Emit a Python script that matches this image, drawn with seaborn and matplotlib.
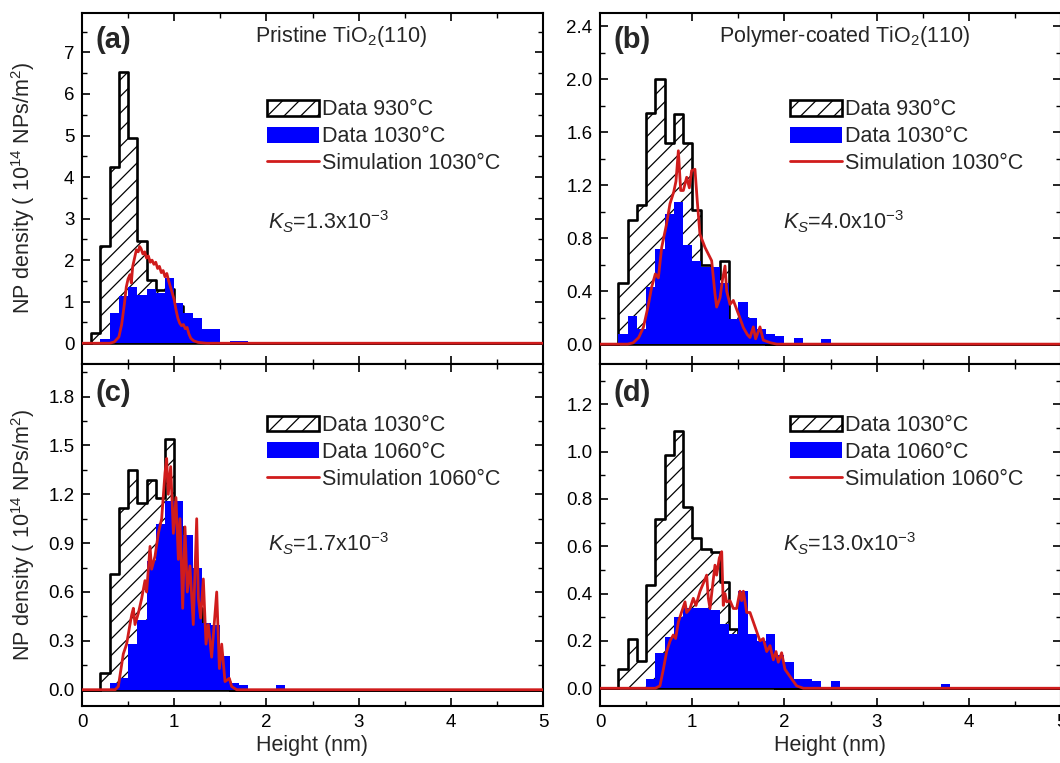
import numpy as np
import pandas as pd
import matplotlib
matplotlib.use("Agg")
import matplotlib.pyplot as plt
import seaborn as sns
from matplotlib.patches import Patch
from matplotlib.lines import Line2D
from matplotlib.ticker import MultipleLocator, FormatStrFormatter

sns.set_theme(style="ticks")
plt.rcParams['font.family'] = ['Liberation Sans', 'DejaVu Sans']
plt.rcParams['mathtext.fontset'] = 'custom'
plt.rcParams['mathtext.rm'] = 'Liberation Sans'
plt.rcParams['mathtext.it'] = 'Liberation Sans:italic'
plt.rcParams['mathtext.bf'] = 'Liberation Sans:bold'
plt.rcParams['hatch.linewidth'] = 0.9

# ---------------- data (bins of 0.1 nm starting at 0.0 nm) ----------------
# panel (a) pristine
a_930 = [0, 0.25, 2.34, 4.24, 6.53, 4.94, 2.45, 1.52, 1.28, 1.3, 0.9, 0.5, 0.2, 0.1]
a_1030 = [0, 0, 0.11, 0.72, 1.14, 1.36, 1.16, 1.3, 1.2, 1.56, 0.96, 0.72, 0.6, 0.35,
          0.35, 0.04, 0.05, 0.05]
a_sim_x = [0, 0.3, 0.35, 0.40, 0.43, 0.46, 0.48, 0.50, 0.52, 0.535, 0.55, 0.57, 0.59, 0.61,
           0.625, 0.64, 0.66, 0.68, 0.70, 0.72, 0.74, 0.76, 0.78, 0.80, 0.82, 0.84, 0.86,
           0.88, 0.90, 0.92, 0.94, 0.96, 0.98, 1.0, 1.02, 1.04, 1.06, 1.08, 1.10, 1.12,
           1.14, 1.16, 1.18, 1.21, 1.26, 1.35, 5.0]
a_sim_y = [0, 0, 0.03, 0.15, 0.45, 0.95, 1.35, 1.55, 1.65, 1.45, 1.85, 2.05, 2.25, 2.2,
           2.33, 2.28, 2.15, 2.2, 2.05, 2.1, 1.95, 2.0, 1.9, 1.95, 1.8, 1.85, 1.7,
           1.75, 1.6, 1.68, 1.5, 1.35, 1.2, 1.05, 0.8, 0.6, 0.48, 0.42, 0.45, 0.35,
           0.38, 0.22, 0.12, 0.06, 0.02, 0, 0]

# panel (b) polymer-coated
b_930 = [0, 0, 0.465, 0.94, 1.05, 1.745, 2.0, 1.52, 1.74, 1.52, 1.015, 0.6, 0.5, 0.63,
         0.15, 0.2, 0.1, 0.05]
b_1030 = [0, 0, 0.077, 0.21, 0.115, 0.43, 0.715, 0.98, 1.07, 0.75, 0.63, 0.58, 0.58,
          0.465, 0.19, 0.32, 0.2, 0.115, 0.077, 0.06, 0, 0.05, 0, 0, 0.04]
b_sim_x = [0, 0.3, 0.36, 0.42, 0.47, 0.52, 0.56, 0.6, 0.633, 0.669, 0.72, 0.759, 0.8,
           0.824, 0.85, 0.875, 0.904, 0.94, 0.969, 0.994, 1.03, 1.055, 1.084, 1.139,
           1.211, 1.247, 1.265, 1.302, 1.327, 1.356, 1.374, 1.41, 1.446, 1.5, 1.555,
           1.6, 1.627, 1.663, 1.688, 1.735, 1.771, 1.85, 1.916, 5.0]
b_sim_y = [0, 0, 0.01, 0.05, 0.125, 0.28, 0.43, 0.53, 0.5, 0.73, 0.9, 1.06, 1.15,
           1.23, 1.46, 1.16, 1.16, 1.26, 1.18, 1.31, 1.32, 1.08, 0.83, 0.73,
           0.63, 0.38, 0.28, 0.35, 0.48, 0.59, 0.4, 0.3, 0.33, 0.23, 0.125,
           0.07, 0.05, 0.13, 0.04, 0.13, 0.03, 0.01, 0, 0]

# panel (c) pristine
c_1030 = [0, 0, 0.1, 0.71, 1.117, 1.35, 1.147, 1.29, 1.18, 1.54, 1.0, 0.7, 0.5, 0.3,
          0.15, 0.05]
c_1060 = [0, 0, 0, 0.04, 0.07, 0.28, 0.43, 0.79, 1.02, 1.16, 1.16, 0.95, 0.75, 0.41,
          0.4, 0.21, 0.04, 0.03, 0, 0, 0, 0.03]
c_sim_x = [0, 0.36, 0.394, 0.448, 0.484, 0.52, 0.539, 0.557, 0.575, 0.611, 0.647, 0.683,
           0.701, 0.738, 0.755, 0.792, 0.828, 0.864, 0.9, 0.918, 0.936, 0.962, 0.991,
           1.019, 1.045, 1.063, 1.092, 1.117, 1.142, 1.171, 1.207, 1.244, 1.262, 1.287,
           1.316, 1.345, 1.37, 1.406, 1.461, 1.49, 1.515, 1.551, 1.598, 1.623, 1.677, 5.0]
c_sim_y = [0, 0, 0.02, 0.22, 0.28, 0.4, 0.46, 0.5, 0.4, 0.47, 0.56, 0.67,
           0.6, 0.88, 0.74, 0.82, 0.96, 1.05, 1.33, 1.42, 1.2, 1.37, 0.96,
           1.18, 0.8, 1.05, 0.5, 1.0, 0.6, 0.76, 0.4, 1.05, 0.56, 0.44,
           0.68, 0.28, 0.4, 0.2, 0.6, 0.13, 0.28, 0.05, 0.07, 0.02, 0, 0]

# panel (d) polymer-coated
d_1030 = [0, 0, 0.08, 0.21, 0.115, 0.436, 0.717, 0.987, 1.086, 0.767, 0.633, 0.59,
          0.574, 0.45, 0.25, 0.2, 0.1, 0.05, 0.03]
d_1060 = [0, 0, 0, 0, 0, 0.04, 0.148, 0.218, 0.3, 0.337, 0.337, 0.337, 0.33, 0.27,
          0.23, 0.41, 0.23, 0.2, 0.23, 0.14, 0.11, 0.04, 0.04, 0.03, 0, 0.03,
          0, 0, 0, 0, 0, 0, 0, 0, 0, 0, 0, 0.02]
d_sim_x = [0, 0.6, 0.65, 0.687, 0.723, 0.76, 0.795, 0.82, 0.85, 0.886, 0.922, 0.94,
           0.976, 1.012, 1.041, 1.085, 1.139, 1.157, 1.175, 1.193, 1.229, 1.247, 1.265,
           1.294, 1.32, 1.337, 1.356, 1.374, 1.41, 1.446, 1.482, 1.518, 1.536, 1.555,
           1.591, 1.627, 1.663, 1.699, 1.735, 1.771, 1.808, 1.844, 1.88, 1.909, 1.934,
           1.97, 2.006, 2.06, 2.133, 2.206, 5.0]
d_sim_y = [0, 0, 0.01, 0.08, 0.155, 0.2, 0.225, 0.21, 0.28, 0.323, 0.365, 0.32,
           0.337, 0.38, 0.35, 0.41, 0.46, 0.478, 0.38, 0.337, 0.46, 0.52, 0.478,
           0.55, 0.577, 0.35, 0.4, 0.365, 0.37, 0.337, 0.337, 0.41, 0.37, 0.41,
           0.32, 0.32, 0.28, 0.24, 0.2, 0.21, 0.155, 0.18, 0.12, 0.155, 0.11,
           0.15, 0.08, 0.05, 0.01, 0, 0]

titles = ["Pristine TiO$_2$(110)", "Polymer-coated TiO$_2$(110)", None, None]
panel_tags = ["(a)", "(b)", "(c)", "(d)"]
ks_labels = [r"$K_S$=1.3x10$^{-3}$", r"$K_S$=4.0x10$^{-3}$",
             r"$K_S$=1.7x10$^{-3}$", r"$K_S$=13.0x10$^{-3}$"]
legend_labels = [["Data 930°C", "Data 1030°C", "Simulation 1030°C"],
                 ["Data 930°C", "Data 1030°C", "Simulation 1030°C"],
                 ["Data 1030°C", "Data 1060°C", "Simulation 1060°C"],
                 ["Data 1030°C", "Data 1060°C", "Simulation 1060°C"]]
ylims = [(-0.5, 7.95), (-0.15, 2.5), (-0.1, 2.0), (-0.075, 1.37)]
ymajor = [1, 0.4, 0.3, 0.2]

BLUE = "#0000ff"
RED = "#d01c1c"
NB = 50
edges = [round(0.1 * k, 2) for k in range(NB + 1)]
centers = [round(0.1 * k + 0.05, 3) for k in range(NB)]


def hist_frame(values):
    w = np.zeros(NB)
    w[:len(values)] = values
    return pd.DataFrame({"h": centers, "w": w})


fig = plt.figure(figsize=(10.6, 7.63), dpi=100)
W = 461 / 1060
lefts = [82 / 1060, 600 / 1060]
up_b, up_h = (763 - 364) / 763, 351 / 763
lo_b, lo_h = (763 - 706) / 763, 342 / 763
rects = [(lefts[0], up_b, W, up_h), (lefts[1], up_b, W, up_h),
         (lefts[0], lo_b, W, lo_h), (lefts[1], lo_b, W, lo_h)]

series = [(a_930, a_1030, a_sim_x, a_sim_y), (b_930, b_1030, b_sim_x, b_sim_y),
          (c_1030, c_1060, c_sim_x, c_sim_y), (d_1030, d_1060, d_sim_x, d_sim_y)]

FS = 15.5
for i, rect in enumerate(rects):
    ax = fig.add_axes(rect)
    old, new, sx, sy = series[i]
    sns.histplot(data=hist_frame(old), x="h", weights="w", bins=edges, element="step",
                 fill=True, facecolor="white", edgecolor="black", linewidth=1.9,
                 hatch="//", alpha=1, ax=ax, zorder=1)
    sns.histplot(data=hist_frame(new), x="h", weights="w", bins=edges, element="step",
                 fill=True, facecolor=BLUE, edgecolor="none", linewidth=0, alpha=1,
                 ax=ax, zorder=2)
    sns.lineplot(x=sx, y=sy, color=RED, linewidth=2.0, estimator=None, sort=False,
                 ax=ax, zorder=3)

    ax.set_xlim(0, 5)
    ax.set_ylim(*ylims[i])
    ax.xaxis.set_major_locator(MultipleLocator(1))
    ax.xaxis.set_minor_locator(MultipleLocator(0.5))
    ax.yaxis.set_major_locator(MultipleLocator(ymajor[i]))
    ax.yaxis.set_minor_locator(MultipleLocator(ymajor[i] / 2))
    ax.tick_params(which="both", direction="in", top=True, right=True, bottom=True,
                   left=True, colors="black", labelsize=13.5)
    ax.tick_params(axis="y", which="major", pad=5.5)
    ax.tick_params(axis="x", which="major", pad=6)
    ax.tick_params(which="major", length=6, width=1.2)
    ax.tick_params(which="minor", length=3.5, width=1.0)
    for sp in ax.spines.values():
        sp.set_color("black")
        sp.set_linewidth(1.5)
        sp.set_visible(True)
    if i < 2:
        ax.tick_params(labelbottom=False)
        ax.set_xlabel("")
    else:
        ax.set_xlabel("Height (nm)", fontsize=FS, labelpad=3)
    if i % 2 == 0:
        ax.set_ylabel("NP density ( 10$^{14}$ NPs/m$^2$)", fontsize=FS)
        ax.yaxis.set_label_coords(-0.097, 0.5)
    else:
        ax.set_ylabel("")
    if i == 0:
        ax.yaxis.set_major_formatter(FormatStrFormatter("%d"))
    else:
        ax.yaxis.set_major_formatter(FormatStrFormatter("%.1f"))

    top_row = i < 2
    ax.text(0.03, 0.923 if top_row else 0.916, panel_tags[i], transform=ax.transAxes,
            fontsize=21, fontweight="bold", ha="left", va="center")
    if titles[i]:
        ax.text(0.375 if i == 0 else 0.258, 0.932, titles[i], transform=ax.transAxes,
                fontsize=FS, ha="left", va="center")
    ax.text(0.404 if i % 2 == 0 else 0.397, 0.405 if top_row else 0.475, ks_labels[i],
            transform=ax.transAxes, fontsize=FS, ha="left", va="center")

    handles = [Patch(facecolor="white", edgecolor="black", hatch="//", linewidth=1.9),
               Patch(facecolor=BLUE, edgecolor="none"),
               Line2D([0], [0], color=RED, linewidth=2.0)]
    ax.legend(handles, legend_labels[i], loc="upper left",
              bbox_to_anchor=(0.401 if i % 2 == 0 else 0.412, 0.754 if top_row else 0.851),
              frameon=False, fontsize=FS, handlelength=2.4, handleheight=0.75,
              handletextpad=0.15, labelspacing=0.27, borderpad=0, borderaxespad=0)

fig.savefig("out.png", dpi=100)
